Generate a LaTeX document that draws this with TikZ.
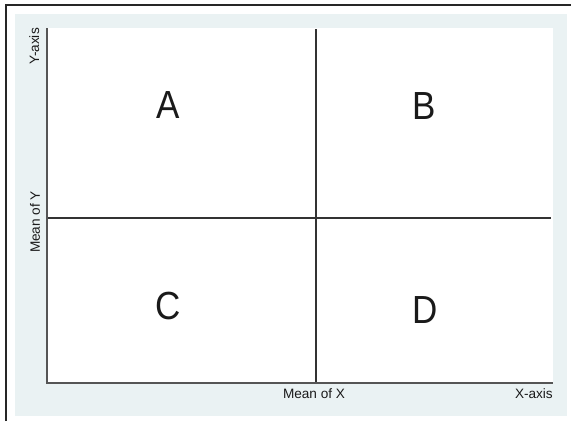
\documentclass[tikz,border=0pt]{standalone}
\usepackage{fontspec}
\setmainfont{Liberation Sans}
\definecolor{bgblue}{HTML}{EAF2F3}
\definecolor{axisgray}{HTML}{555555}
\definecolor{linedark}{HTML}{333333}
\definecolor{txt}{HTML}{1A1A1A}
\begin{document}
\begin{tikzpicture}[x=1pt,y=-1pt,
  quad/.style={font=\fontsize{35}{35}\selectfont, text=txt, inner sep=0pt, yscale=1.12},
  axlabel/.style={font=\fontsize{13.6}{14}\selectfont, text=txt, inner sep=0pt},
  axisline/.style={draw=axisgray, line width=1.5pt},
  divline/.style={draw=linedark, line width=1.1pt},
  frameline/.style={draw=black!85, line width=1.3pt}]
\useasboundingbox (0,0) rectangle (571,421);
% frame
\draw[frameline] (6,421) -- (6,5) -- (571,5);
% background
\fill[bgblue] (15,14) rectangle (567,416);
\fill[white] (47,28) rectangle (553,383);
% coordinates
\coordinate (tl) at (47,28);
\coordinate (bl) at (47,383);
\coordinate (br) at (553,383);
\coordinate (vt) at (316,29);
\coordinate (vb) at (316,383);
\coordinate (hl) at (47,218);
\coordinate (hr) at (551,218);
% divider lines
\draw[divline] (vt) -- (vb);
\draw[divline] (hl) -- (hr);
% axes
\draw[axisline] (tl) -- (bl) -- (br);
% quadrant labels
\node[quad] (A) at (168,105.5) {A};
\node[quad] (B) at (424,106.5) {B};
\node[quad] (C) at (168,306.5) {C};
\node[quad] (D) at (425,310) {D};
% axis labels
\node[axlabel, anchor=north east] (xaxis) at (553,388) {X-axis};
\node[axlabel, anchor=north] (meanx) at (314,388) {Mean of X};
\node[axlabel, rotate=90, anchor=north east] (yaxis) at (29,28) {Y-axis};
\node[axlabel, rotate=90] (meany) at (35,222) {Mean of Y};
\end{tikzpicture}
\end{document}
